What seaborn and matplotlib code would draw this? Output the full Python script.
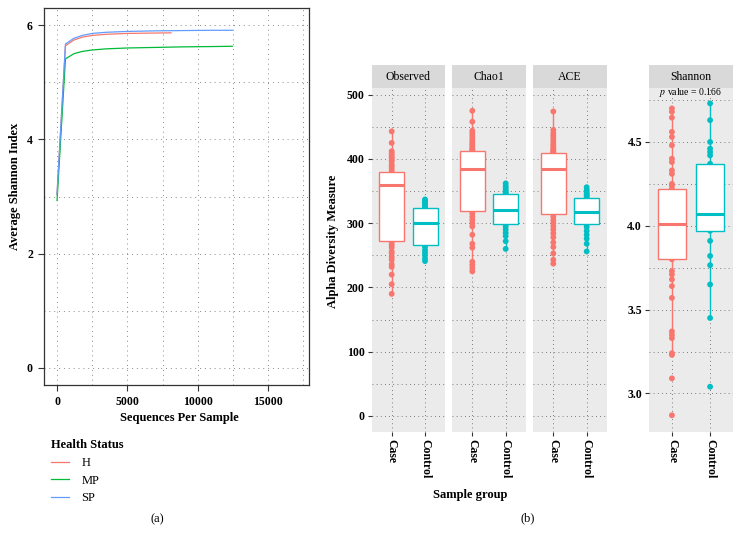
import numpy as np
import pandas as pd
import matplotlib
matplotlib.use("Agg")
import matplotlib.pyplot as plt
import seaborn as sns
from matplotlib.ticker import MultipleLocator, FixedLocator
from matplotlib.font_manager import FontProperties

# ---------------- data: (a) rarefaction curves ----------------
status_levels = ["H", "MP", "SP"]
h_depth = [1, 600, 1200, 1800, 2500, 3500, 5000, 6500, 8100]
h_shannon = [3.03, 5.64, 5.74, 5.79, 5.82, 5.84, 5.855, 5.86, 5.865]
mp_depth = [1, 600, 1200, 1800, 2500, 3500, 5000, 7000, 9000, 11000, 12450]
mp_shannon = [2.93, 5.41, 5.50, 5.54, 5.565, 5.585, 5.60, 5.61, 5.62, 5.625, 5.63]
sp_depth = [1, 600, 1200, 1800, 2500, 3500, 5000, 7000, 9000, 11000, 12450]
sp_shannon = [3.05, 5.67, 5.77, 5.82, 5.855, 5.875, 5.89, 5.90, 5.905, 5.91, 5.91]

# ---------------- data: (b) alpha diversity ----------------
measures = ["Observed", "Chao1", "ACE", "Shannon"]
groups = ["Case", "Control"]
obs_case = [190, 205, 220, 232, 236, 243, 247, 253, 256, 262, 266, 270, 273,
            280, 288, 296, 305, 312, 320, 328, 335, 342, 348, 354, 359,
            361, 363, 365, 367, 369, 371, 372, 374, 376, 377, 378, 380,
            384, 388, 391, 396, 398, 401, 403, 406, 409, 412, 425, 443]
obs_ctrl = [241, 245, 250, 254, 258, 263, 266, 274, 282, 288, 293, 297, 300,
            304, 308, 313, 317, 321, 323, 326, 328, 331, 333, 335, 337]
chao_case = [225, 230, 235, 240, 262, 268, 282, 295, 300, 305, 310, 315, 319,
             326, 333, 340, 346, 352, 358, 363, 368, 373, 377, 381, 384,
             386, 388, 391, 393, 396, 398, 401, 403, 406, 408, 410, 413,
             414, 416, 419, 422, 425, 428, 432, 436, 440, 444, 458, 475]
chao_ctrl = [260, 272, 280, 285, 290, 295, 299, 303, 307, 311, 315, 318, 320,
             324, 328, 333, 337, 341, 345, 347, 349, 352, 355, 358, 362]
ace_case = [237, 243, 253, 263, 270, 278, 284, 290, 295, 300, 305, 310, 314,
            321, 328, 335, 342, 348, 354, 360, 366, 372, 377, 381, 384,
            386, 388, 390, 392, 395, 397, 399, 401, 403, 405, 407, 410,
            411, 413, 415, 418, 421, 424, 428, 432, 436, 440, 445, 474]
ace_ctrl = [256, 268, 276, 282, 288, 294, 298, 301, 304, 308, 311, 314, 317,
            321, 325, 329, 333, 336, 339, 342, 344, 346, 349, 352, 356]
sh_case = [2.87, 3.09, 3.23, 3.24, 3.33, 3.35, 3.37, 3.57, 3.64, 3.68, 3.71, 3.73, 3.80,
           3.82, 3.84, 3.86, 3.88, 3.90, 3.92, 3.94, 3.96, 3.97, 3.99, 4.00, 4.01,
           4.03, 4.05, 4.07, 4.09, 4.11, 4.13, 4.15, 4.17, 4.18, 4.20, 4.21, 4.22,
           4.24, 4.25, 4.31, 4.33, 4.38, 4.40, 4.48, 4.53, 4.56, 4.645, 4.68, 4.70]
sh_ctrl = [3.04, 3.45, 3.65, 3.765, 3.82, 3.91, 3.97, 3.99, 4.01, 4.03, 4.05, 4.06, 4.07,
           4.10, 4.15, 4.20, 4.26, 4.32, 4.37, 4.42, 4.44, 4.46, 4.50, 4.63, 4.73]
p_value_text = "0.166"

# ---------------- styling ----------------
SERIF = "Liberation Serif"
plt.rcParams["font.family"] = [SERIF, "DejaVu Serif"]
plt.rcParams["mathtext.fontset"] = "stix"
status_colors = {"H": "#F8766D", "MP": "#00BA38", "SP": "#619CFF"}
group_colors = {"Case": "#F8766D", "Control": "#00BFC4"}
TICK_FS = 8.5
LAB_FS = 9

W, H = 742, 547
fig = plt.figure(figsize=(W / 100, H / 100), dpi=100)


def px_axes(l, t, r, b):
    return fig.add_axes([l / W, 1 - b / H, (r - l) / W, (b - t) / H])


# ---------------- panel (a) ----------------
rare_df = pd.concat([
    pd.DataFrame({"depth": h_depth, "shannon": h_shannon, "status": "H"}),
    pd.DataFrame({"depth": mp_depth, "shannon": mp_shannon, "status": "MP"}),
    pd.DataFrame({"depth": sp_depth, "shannon": sp_shannon, "status": "SP"}),
])
axa = px_axes(44, 8, 309, 385)
axa.set_facecolor("white")
sns.lineplot(data=rare_df, x="depth", y="shannon", hue="status",
             hue_order=status_levels, palette=status_colors, estimator=None,
             sort=False, linewidth=0.9, ax=axa)
axa.set_xlim(-925, 17900)
axa.set_ylim(-0.3, 6.3)
axa.xaxis.set_major_locator(FixedLocator([0, 5000, 10000, 15000]))
axa.xaxis.set_minor_locator(MultipleLocator(2500))
axa.yaxis.set_major_locator(MultipleLocator(2))
axa.yaxis.set_minor_locator(MultipleLocator(1))
axa.set_axisbelow(True)
axa.grid(which="both", color="#8a8a8a", linestyle=(0, (1, 4)), linewidth=0.7)
axa.tick_params(which="minor", length=0)
axa.tick_params(which="major", length=4, width=0.8, color="#333333",
                labelsize=TICK_FS, pad=4)
for lab in axa.get_xticklabels() + axa.get_yticklabels():
    lab.set_fontweight("bold")
for sp in axa.spines.values():
    sp.set_color("#333333")
    sp.set_linewidth(0.9)
axa.set_xlabel("")
axa.set_ylabel("")
handles, labels = axa.get_legend_handles_labels()
axa.legend(handles, labels, title="Health Status", loc="upper left",
           bbox_to_anchor=(40 / W, 1 - 428 / H), bbox_transform=fig.transFigure,
           frameon=False, handlelength=1.4, handletextpad=1.0, labelspacing=0.45,
           alignment="left",
           title_fontproperties=FontProperties(family=SERIF, weight="bold", size=LAB_FS),
           prop=FontProperties(family=SERIF, size=LAB_FS))
fig.text(179 / W, 1 - 418 / H, "Sequences Per Sample", ha="center", va="center",
         fontsize=LAB_FS, fontweight="bold")
fig.text(15 / W, 1 - 186 / H, "Average Shannon Index", ha="center", va="center",
         rotation=90, fontsize=LAB_FS, fontweight="bold")
fig.text(157 / W, 1 - 519 / H, "(a)", ha="center", va="center", fontsize=LAB_FS)

# ---------------- panel (b) ----------------
values = {"Observed": (obs_case, obs_ctrl), "Chao1": (chao_case, chao_ctrl),
          "ACE": (ace_case, ace_ctrl), "Shannon": (sh_case, sh_ctrl)}
rows = []
for m in measures:
    c, k = values[m]
    rows += [(m, "Case", v) for v in c] + [(m, "Control", v) for v in k]
df = pd.DataFrame(rows, columns=["measure", "group", "value"])

panel_x = {"Observed": (371.7, 445), "Chao1": (452.3, 525.7),
           "ACE": (533.3, 606.7), "Shannon": (649, 733)}
PT, PB, ST = 88.3, 432, 65

for m in measures:
    l, r = panel_x[m]
    ax = px_axes(l, PT, r, PB)
    ax.set_facecolor("#EBEBEB")
    sub = df[df.measure == m]
    sns.stripplot(data=sub, x="group", y="value", hue="group", order=groups,
                  hue_order=groups, palette=group_colors, jitter=False, size=4.2,
                  linewidth=0, legend=False, ax=ax, zorder=1)
    for g in groups:
        sns.boxplot(data=sub[sub.group == g], x="group", y="value", order=groups,
                    color="white", linecolor=group_colors[g], linewidth=1.0,
                    width=0.75, showcaps=False, showfliers=False,
                    medianprops=dict(linewidth=2.2), ax=ax)
    ax.set_xlim(-0.6, 1.6)
    if m == "Shannon":
        ax.set_ylim(2.77, 4.82)
        ax.yaxis.set_major_locator(FixedLocator([3.0, 3.5, 4.0, 4.5]))
        ax.yaxis.set_minor_locator(FixedLocator([2.75, 3.25, 3.75, 4.25, 4.75]))
        ax.set_yticklabels(["3.0", "3.5", "4.0", "4.5"])
        ax.text(0.5, 0.988, r"$p$ value = " + p_value_text, transform=ax.transAxes,
                ha="center", va="center", fontsize=7)
    else:
        ax.set_ylim(-25, 510)
        ax.yaxis.set_major_locator(MultipleLocator(100))
        ax.yaxis.set_minor_locator(MultipleLocator(50))
    ax.set_axisbelow(True)
    ax.grid(which="both", color="#555555", linestyle=(0, (1, 4)), linewidth=0.6)
    ax.tick_params(which="minor", length=0)
    ax.tick_params(which="major", length=3, width=0.8, color="#333333",
                   labelsize=TICK_FS, pad=2)
    if m in ("Chao1", "ACE"):
        ax.tick_params(axis="y", which="both", length=0, labelleft=False)
    ax.set_xticks([0, 1])
    ax.set_xticklabels(groups, rotation=-90, fontweight="bold", fontsize=TICK_FS)
    for lab in ax.get_yticklabels():
        lab.set_fontweight("bold")
    for sp in ax.spines.values():
        sp.set_visible(False)
    ax.set_xlabel("")
    ax.set_ylabel("")
    # strip
    sax = px_axes(l, ST, r, PT)
    sax.set_facecolor("#D9D9D9")
    sax.set_xticks([])
    sax.set_yticks([])
    for sp in sax.spines.values():
        sp.set_visible(False)
    sax.text(0.5, 0.5, m, ha="center", va="center", fontsize=TICK_FS,
             transform=sax.transAxes)

fig.text(333 / W, 1 - 241 / H, "Alpha Diversity Measure", ha="center", va="center",
         rotation=90, fontsize=LAB_FS, fontweight="bold")
fig.text(470 / W, 1 - 495 / H, "Sample group", ha="center", va="center",
         fontsize=LAB_FS, fontweight="bold")
fig.text(528 / W, 1 - 518 / H, "(b)", ha="center", va="center", fontsize=LAB_FS)

fig.savefig("out.png", dpi=100, facecolor="white")
